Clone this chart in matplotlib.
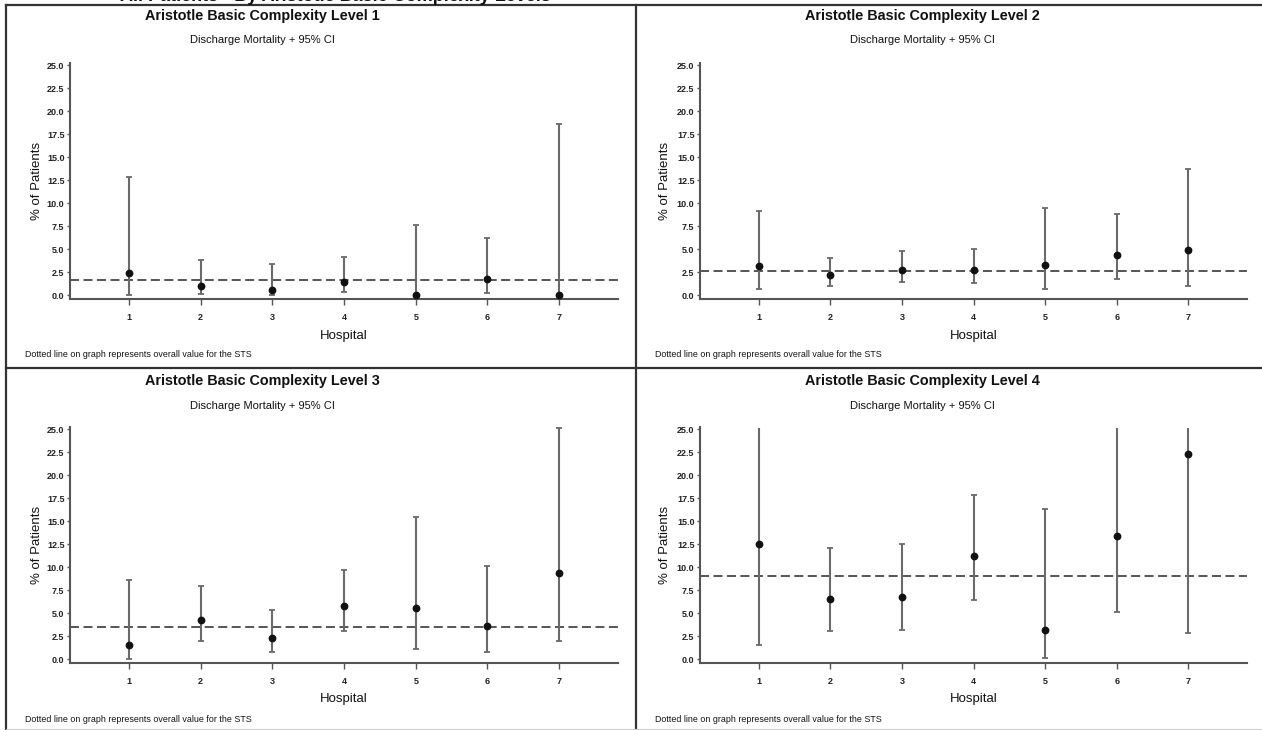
import matplotlib
matplotlib.use("Agg")
import matplotlib.pyplot as plt
from matplotlib.lines import Line2D

plt.rcParams['font.family'] = ['Liberation Sans', 'DejaVu Sans']
plt.rcParams['lines.scale_dashes'] = False

# ---------------- data ----------------
hospitals = [1, 2, 3, 4, 5, 6, 7]
y_ticks = [0.0, 2.5, 5.0, 7.5, 10.0, 12.5, 15.0, 17.5, 20.0, 22.5, 25.0]

suptitle = "All Patients - By Aristotle Basic Complexity Levels"
titles = ["Aristotle Basic Complexity Level 1", "Aristotle Basic Complexity Level 2",
          "Aristotle Basic Complexity Level 3", "Aristotle Basic Complexity Level 4"]
subtitle = "Discharge Mortality + 95% CI"
footnote = "Dotted line on graph represents overall value for the STS"

# Level 1
l1_est = [2.43, 1.05, 0.62, 1.49, 0.0, 1.78, 0.0]
l1_lo = [0.05, 0.15, 0.02, 0.33, 0.0, 0.25, 0.0]
l1_hi = [12.9, 3.8, 3.38, 4.18, 7.6, 6.25, 18.6]
l1_sts = 1.67
# Level 2
l2_est = [3.23, 2.18, 2.8, 2.8, 3.34, 4.4, 4.9]
l2_lo = [0.69, 1.02, 1.45, 1.34, 0.69, 1.78, 1.05]
l2_hi = [9.19, 4.1, 4.87, 5.05, 9.48, 8.87, 13.77]
l2_sts = 2.62
# Level 3
l3_est = [1.6, 4.29, 2.33, 5.78, 5.6, 3.6, 9.41]
l3_lo = [0.07, 2.0, 0.76, 3.13, 1.16, 0.76, 2.0]
l3_hi = [8.58, 7.96, 5.34, 9.67, 15.48, 10.17, 25.1]
l3_sts = 3.52
# Level 4 (None = upper limit beyond the plotted range)
l4_est = [12.54, 6.54, 6.8, 11.26, 3.16, 13.4, 22.35]
l4_lo = [1.56, 3.09, 3.2, 6.43, 0.1, 5.09, 2.83]
l4_hi = [None, 12.14, 12.54, 17.88, 16.3, None, None]
l4_sts = 9.08

panels = [(l1_est, l1_lo, l1_hi, l1_sts),
          (l2_est, l2_lo, l2_hi, l2_sts),
          (l3_est, l3_lo, l3_hi, l3_sts),
          (l4_est, l4_lo, l4_hi, l4_sts)]

# ---------------- layout ----------------
W, H = 1262, 730
fig = plt.figure(figsize=(W / 100, H / 100), dpi=100)
fig.patch.set_facecolor('white')

def fx(x):
    return x / W

def fy(y):
    return 1 - y / H

YMIN, YMAX = -0.4, 25.25
CLIP_TOP = 25.1

# (axes left, right, top, bottom px, title cx, title y, sub y, ylabel x,
#  xlabel cx, xlabel y, foot x, foot y)
geo = [
    (70, 618, 63, 299, 262, 16, 40, 37, 344, 336, 25, 355),
    (700, 1247, 63, 299, 922, 16, 40, 665, 974, 336, 655, 355),
    (70, 618, 427, 663, 262, 381, 406, 37, 344, 699, 25, 719),
    (700, 1247, 427, 663, 922, 381, 406, 665, 974, 699, 655, 719),
]

err_col = '#6a6a6a'
axis_col = '#555555'

for (est, lo, hi, sts), g, title in zip(panels, geo, titles):
    axl, axr, axt, axb, tcx, ty, sy, ylx, xlcx, xly, ftx, fty = g
    ax = fig.add_axes([fx(axl), fy(axb), fx(axr - axl), (axb - axt) / H])
    ax.set_xlim(0.18, 7.82)
    ax.set_ylim(YMIN, YMAX)
    for s in ['top', 'right']:
        ax.spines[s].set_visible(False)
    for s in ['left', 'bottom']:
        ax.spines[s].set_color(axis_col)
        ax.spines[s].set_linewidth(1.5)
    ax.set_xticks(hospitals)
    ax.set_xticklabels([str(h) for h in hospitals])
    ax.set_yticks(y_ticks)
    ax.set_yticklabels([f"{v:.1f}" for v in y_ticks])
    ax.tick_params(axis='both', colors=axis_col, labelcolor='#222222',
                   labelsize=6.5, width=1.0)
    ax.tick_params(axis='y', length=2.5, pad=1.5)
    ax.tick_params(axis='x', length=4, pad=6)
    for lab in ax.get_xticklabels() + ax.get_yticklabels():
        lab.set_fontweight('bold')

    # STS overall line
    ax.axhline(sts, color='#555555', lw=1.4, dashes=(6.5, 3.2), zorder=2)

    tops = [h if h is not None else CLIP_TOP for h in hi]
    ax.vlines(hospitals, lo, tops, color=err_col, lw=1.5, zorder=3)
    ax.plot(hospitals, lo, linestyle='none', marker='_', markersize=4.5,
            markeredgewidth=1.3, color=err_col, zorder=3)
    cap_x = [x for x, h in zip(hospitals, hi) if h is not None]
    cap_y = [h for h in hi if h is not None]
    ax.plot(cap_x, cap_y, linestyle='none', marker='_', markersize=4.5,
            markeredgewidth=1.3, color=err_col, zorder=3, clip_on=False)
    ax.plot(hospitals, est, linestyle='none', marker='o', markersize=4.6,
            color='#111111', zorder=4, clip_on=False)

    fig.text(fx(tcx), fy(ty), title, ha='center', va='center',
             fontsize=10.4, fontweight='bold', color='#111111')
    fig.text(fx(tcx), fy(sy), subtitle, ha='center', va='center',
             fontsize=8.0, color='#111111')
    fig.text(fx(ylx), fy((axt + axb) / 2), "% of Patients", ha='center', va='center',
             rotation=90, fontsize=9.5, color='#111111')
    fig.text(fx(xlcx), fy(xly), "Hospital", ha='center', va='center',
             fontsize=9.5, color='#111111')
    fig.text(fx(ftx), fy(fty), footnote, ha='left', va='center',
             fontsize=6.4, color='#111111')

# super title, cut off at the very top as in the source image
fig.text(fx(120), fy(1.0), suptitle, ha='left', va='baseline',
         fontsize=13, fontweight='bold', color='#111111')

# panel frame lines
frame_col = '#333333'
lines = [
    ((6, 1262), (5, 5)),
    ((6, 6), (5, 730)),
    ((6, 1262), (368, 368)),
    ((636, 636), (5, 730)),
]
for xs, ys in lines:
    fig.add_artist(Line2D([fx(xs[0]), fx(xs[1])], [fy(ys[0]), fy(ys[1])],
                          color=frame_col, lw=1.6, transform=fig.transFigure))
fig.add_artist(Line2D([fx(6), fx(1262)], [fy(728.5), fy(728.5)],
                      color='#cccccc', lw=0.8, transform=fig.transFigure))

fig.savefig("out.png", dpi=100, facecolor='white')
